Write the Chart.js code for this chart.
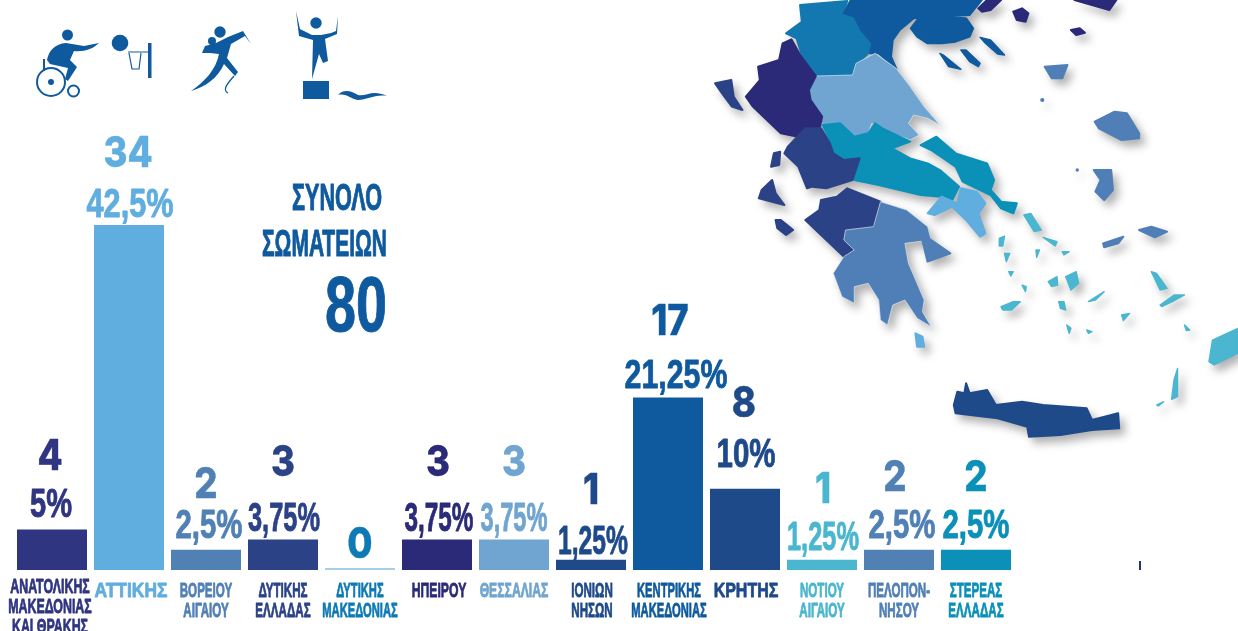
<!DOCTYPE html>
<html lang="el">
<head>
<meta charset="utf-8">
<title>Σύνολο σωματείων ανά περιφέρεια</title>
<script src="https://cdn.jsdelivr.net/npm/chart.js@4"></script>
<style>
  html, body { margin: 0; padding: 0; background: #fff; overflow: hidden; }
  #wrap { position: relative; width: 1238px; height: 631px; overflow: hidden; }
  #wrap svg { position: absolute; left: 0; top: 0; }
  #map { filter: blur(0.5px) drop-shadow(5px 6px 4px rgba(0,0,0,.3)); }
  canvas { position: absolute; left: 0; top: 0; }
</style>
</head>
<body>
<div id="wrap">
  <!-- map of the regions, decoration only -->
  <svg id="map" style="left:690px" width="548" height="450" viewBox="0 0 1568 1350" preserveAspectRatio="none">
    <g stroke-linejoin="round" stroke-width="6">
      <path fill="#1478b0" stroke="#1478b0" d="M315 15L450 3L435 45L470 50L490 90L520 130L510 160L470 200L465 225L360 228L320 165L305 115L275 100L320 65Z"/>
      <path fill="#0f5a9e" stroke="#0f5a9e" d="M460 0L835 0L800 45L640 55L600 90L580 120L575 170L590 205L540 160L515 160L522 130L490 90L470 50L440 40Z"/>
      <path fill="#0f5a9e" stroke="#0f5a9e" d="M632 85L650 60L700 50L790 55L810 85L800 110L760 125L720 130L680 130L650 110Z"/>
      <path fill="#0f5a9e" stroke="#0f5a9e" stroke-width="4" d="M715 160L725 165L775 208L740 200Z"/>
      <path fill="#0f5a9e" stroke="#0f5a9e" stroke-width="4" d="M775 150L790 150L830 190L825 200L800 185Z"/>
      <path fill="#0f5a9e" stroke="#0f5a9e" stroke-width="4" d="M830 112L860 120L900 165L880 162L845 130Z"/>
      <path fill="#6fa5d0" stroke="#dde6f0" stroke-width="2" d="M360 228L465 225L475 190L530 160L590 205L630 260L670 320L715 375L680 355L640 345L625 370L655 405L630 420L540 385L520 370L510 400L470 410L430 370L380 375L345 300L340 270Z"/>
      <path fill="#2a2a78" stroke="#2a2a78" d="M290 118L315 165L360 228L340 270L345 300L378 350L372 380L330 385L310 410L260 400L230 370L180 320L160 290L200 240L195 200L255 180L265 130Z"/>
      <path fill="#0b90b8" stroke="#0b90b8" d="M380 375L430 370L470 410L510 400L530 370L550 385L630 425L578 445L630 475L680 490L715 510L770 560L745 610L720 590L660 585L600 570L540 555L470 540L485 480L440 480L410 460L400 420Z"/>
      <path fill="#0b90b8" stroke="#0b90b8" d="M660 435L705 410L760 460L850 490L870 540L860 570L890 605L935 610L925 640L890 625L860 585L780 545L760 500L690 450Z"/>
      <path fill="#2b4287" stroke="#2b4287" d="M280 440L330 385L375 385L400 430L410 460L440 480L485 475L465 540L390 565L350 560L335 565L310 500L270 460Z"/>
      <path fill="#2b4287" stroke="#2b4287" d="M450 565L545 605L525 680L445 690L440 720L470 750L440 770L370 700L330 660L370 630L375 600L420 590Z"/>
      <path fill="#4f7fb6" stroke="#dde6f0" stroke-width="2" d="M545 605L620 630L680 680L690 720L615 730L625 790L670 900L665 935L690 980L650 955L615 900L580 915L565 975L545 960L540 900L510 850L470 860L470 910L435 890L410 820L440 770L470 750L440 720L445 690L525 680Z"/>
      <path fill="#4f7fb6" stroke="#4f7fb6" d="M660 700L690 720L745 760L680 785Z"/>
      <path fill="#60addf" stroke="#60addf" d="M765 610L775 565L820 575L845 610L825 640L845 700L830 710L790 660L750 620L700 645L680 640L720 590Z"/>
      <path fill="#60addf" stroke="#60addf" d="M645 1000L665 1010L670 1040L650 1040Z"/>
      <!-- Ionian -->
      <path fill="#2b4287" stroke="#2b4287" d="M72 250L118 240L125 290L150 330L120 320L95 285Z"/>
      <path fill="#2b4287" stroke="#2b4287" d="M240 460L258 455L255 495L232 500Z"/>
      <path fill="#2b4287" stroke="#2b4287" d="M235 540L245 580L270 615L235 605L197 595L205 570Z"/>
      <path fill="#2b4287" stroke="#2b4287" d="M245 660L260 660L295 690L275 705L250 685Z"/>
      <!-- Crete -->
      <path fill="#1f4a8a" stroke="#1f4a8a" d="M755 1215L765 1175L785 1180L790 1150L800 1180L850 1170L875 1215L950 1205L1010 1215L1135 1225L1150 1260L1225 1240L1228 1285L1150 1290L1060 1305L970 1310L965 1280L880 1255L760 1240Z"/>
      <!-- north east islands -->
      <path fill="#2a2a78" stroke="#2a2a78" d="M925 35L950 25L968 40L960 65L935 60Z"/>
      <path fill="#2a2a78" stroke="#2a2a78" d="M1090 90L1115 85L1130 98L1105 105Z"/>
      <path fill="#2a2a78" stroke="#2a2a78" d="M825 25L850 0L890 0L860 30L835 35Z"/>
      <path fill="#2a2a78" stroke="#2a2a78" d="M1100 0L1220 0L1200 30L1150 15Z"/>
      <path fill="#4f7fb6" stroke="#4f7fb6" d="M1015 200L1080 195L1065 235L1035 235Z"/>
      <path fill="#4f7fb6" stroke="#4f7fb6" d="M1158 365L1215 335L1250 340L1285 400L1285 415L1235 420L1170 385Z"/>
      <path fill="#4f7fb6" stroke="#4f7fb6" d="M1155 510L1205 510L1210 570L1185 600L1160 575L1175 540Z"/>
      <path fill="#4f7fb6" stroke="#4f7fb6" d="M1285 690L1320 680L1365 695L1330 712Z"/>
      <path fill="#4f7fb6" stroke="#4f7fb6" d="M1182 730L1240 710L1225 730L1185 742Z"/>
      <circle cx="1008" cy="300" r="6" fill="#4f7fb6" stroke="none"/>
      <circle cx="1108" cy="510" r="5" fill="#4f7fb6" stroke="none"/>
      <!-- Aegean islands -->
      <g fill="#4ab6cf" stroke="#4ab6cf" stroke-width="4">
        <path d="M955 645L975 640L1005 690L985 695Z"/>
        <path d="M1010 712L1050 725L1045 738Z"/>
        <path d="M1065 755L1085 755L1070 765Z"/>
        <path d="M885 715L900 708L895 738L885 738Z"/>
        <path d="M900 760L915 760L905 785Z"/>
        <path d="M990 750L1000 750L992 772Z"/>
        <path d="M1075 830L1105 815L1112 850L1090 870Z"/>
        <path d="M1025 845L1050 830L1052 855L1035 860Z"/>
        <path d="M912 815L925 815L918 828Z"/>
        <path d="M950 855L962 860L960 875Z"/>
        <path d="M890 920L925 905L945 905L920 930L895 930Z"/>
        <path d="M1055 905L1070 905L1075 930L1060 925Z"/>
        <path d="M1140 905L1185 875L1160 900Z"/>
        <path d="M1345 915L1385 885L1415 885L1380 905L1350 920Z"/>
        <path d="M1320 815L1335 820L1365 865L1345 870Z"/>
        <path d="M1235 945L1258 940L1240 962Z"/>
        <path d="M1078 975L1090 985L1085 1000Z"/>
        <path d="M1135 990L1150 995L1140 1000Z"/>
        <path d="M1495 1020L1568 985L1568 1060L1500 1095L1485 1085Z"/>
        <path d="M1395 1105L1395 1190L1378 1198L1385 1140Z"/>
        <path d="M1335 1215L1355 1205L1340 1218Z"/>
        <path d="M1415 975L1430 990L1420 992Z"/>
      </g>
    </g>
  </svg>
  <!-- sport pictograms, decoration only -->
  <svg width="420" height="110">
    <g fill="#0f5a9e">
      <circle cx="67.500" cy="35" r="5.500"/>
      <path d="M47 60C49 50 55 44 66 43L84 46L99 43C93 49 84 52 74 51L70 60L77 67L68 81L65 79L68 68L50 64Z"/>
      <circle cx="51" cy="82" r="3"/>
      <rect x="43" y="59" width="2" height="12"/>
      <circle cx="120" cy="43" r="8.300"/>
      <rect x="148" y="43" width="3.500" height="35"/>
      <circle cx="220" cy="32" r="5.700"/>
      <circle cx="212" cy="41" r="4"/>
      <path d="M205 46L216 43L228 37L243 31L251 44L245 36L231 44L227 58L238 72L235 76L224 64C218 78 205 87 191 91C204 82 216 70 219 54L210 53L202 53Z"/>
      <circle cx="316" cy="23" r="5.700"/>
      <path d="M296 11L300 29L312 35H321L331 33L336 31L338 16L337 34L325 39L328 61L323 63L319 54L312 79L313 40L299 36Z"/>
      <rect x="303" y="81" width="26" height="18"/>
      <path d="M338 95C345 88 352 92 358 95C366 97 372 89 387 96C375 94 367 100 358 100C350 99 347 93 338 95Z"/>
    </g>
    <g fill="none" stroke="#0f5a9e">
      <circle cx="51" cy="82" r="14" stroke-width="2"/>
      <circle cx="73.500" cy="91" r="5.500" stroke-width="2"/>
      <path d="M128 52H148M129 53L132 69H139L141 53" stroke-width="1.200"/>
      <path d="M234 76C227 84 222 90 228 93" stroke-width="1.300"/>
    </g>
  </svg>
  <svg width="1238" height="631"><rect x="1139" y="561" width="2" height="9" fill="#1d3a66"/></svg>
  <canvas id="clubsChart" width="1238" height="631"></canvas>
</div>
<script>
const regions = [
  ["ΑΝΑΤΟΛΙΚΗΣ", "ΜΑΚΕΔΟΝΙΑΣ", "ΚΑΙ ΘΡΑΚΗΣ"],
  ["ΑΤΤΙΚΗΣ"],
  ["ΒΟΡΕΙΟΥ", "ΑΙΓΑΙΟΥ"],
  ["ΔΥΤΙΚΗΣ", "ΕΛΛΑΔΑΣ"],
  ["ΔΥΤΙΚΗΣ", "ΜΑΚΕΔΟΝΙΑΣ"],
  ["ΗΠΕΙΡΟΥ"],
  ["ΘΕΣΣΑΛΙΑΣ"],
  ["ΙΟΝΙΩΝ", "ΝΗΣΩΝ"],
  ["ΚΕΝΤΡΙΚΗΣ", "ΜΑΚΕΔΟΝΙΑΣ"],
  ["ΚΡΗΤΗΣ"],
  ["ΝΟΤΙΟΥ", "ΑΙΓΑΙΟΥ"],
  ["ΠΕΛΟΠΟΝ-", "ΝΗΣΟΥ"],
  ["ΣΤΕΡΕΑΣ", "ΕΛΛΑΔΑΣ"],
];
const clubs = [4, 34, 2, 3, 0, 3, 3, 1, 17, 8, 1, 2, 2];
const shares = ["5%", "42,5%", "2,5%", "3,75%", "", "3,75%", "3,75%", "1,25%", "21,25%", "10%", "1,25%", "2,5%", "2,5%"];
const totalTitle = ["ΣΥΝΟΛΟ", "ΣΩΜΑΤΕΙΩΝ"];
const totalClubs = "80";

const barColors = ["#2f3580", "#60addf", "#5180b5", "#2b4287", "#a8cde8", "#2a2a78", "#6fa5d0", "#1f4a8a", "#0f5a9e", "#1f4a8a", "#4ab6cf", "#5180b5", "#0b90b8"];
const textColors = ["#2f3580", "#60addf", "#5180b5", "#2b4287", "#0e7ab5", "#2a2a78", "#6fa5d0", "#1f4a8a", "#0f5a9e", "#1f4a8a", "#4ab6cf", "#5180b5", "#0b90b8"];

// label placement, px relative to the bar
const countLift = [59, 58, 52, 64, 12, 64, 64, 56, 62, 72, 57, 59, 59];
const countShift = [-2, -1, 0, 0, 0, 1, 0, 0, 2, -1, 1, -4, 0];
const shareLift = [12, 8, 12, 9, 0, 9, 9, 6, 9, 22, 10, 12, 12];
const shareShift = [-1, 1, 3, 1, 0, 2, 0, 2, 8, 1, 1, 3, 0];
const shareWidth = [42, 87, 67, 72, 0, 69, 67, 70, 103, 59, 72, 67, 67];
const labelStretch = [0.62, 0.87, 0.58, 0.58, 0.56, 0.61, 0.61, 0.58, 0.56, 0.8, 0.58, 0.58, 0.58];
const labelShift = [-2, 2, 0, 0, 0, 2, 0, 1, 1, 1, 0, 0, 0];
const labelDrop = [-4, 0, 0, 0, 0, 0, 0, 0, 0, 0, 0, 0, 0];

function squeezed(ctx, text, x, y, sx, weight) {
  ctx.save();
  ctx.translate(x, y);
  ctx.scale(sx, 1);
  ctx.lineWidth = weight;
  ctx.fillText(text, 0, 0);
  ctx.strokeText(text, 0, 0);
  ctx.restore();
}

const barTexts = {
  id: "barTexts",
  afterDraw(chart) {
    const ctx = chart.ctx;
    const xScale = chart.scales.x;
    const yScale = chart.scales.y;
    ctx.save();
    ctx.textAlign = "center";
    ctx.textBaseline = "alphabetic";
    ctx.lineJoin = "round";
    clubs.forEach((value, i) => {
      const x = xScale.getPixelForTick(i);
      const top = yScale.getPixelForValue(value);
      ctx.fillStyle = textColors[i];
      ctx.strokeStyle = textColors[i];

      ctx.font = "800 43px Inter";
      squeezed(ctx, String(value), x + countShift[i], top - countLift[i], 0.85, 0.4);

      if (shares[i]) {
        ctx.font = "bold 41px 'Liberation Sans'";
        ctx.lineWidth = 0.9;
        ctx.fillText(shares[i], x + shareShift[i], top - shareLift[i], shareWidth[i]);
        ctx.strokeText(shares[i], x + shareShift[i], top - shareLift[i], shareWidth[i]);
      }

      ctx.font = "bold 20px 'Liberation Sans'";
      regions[i].forEach((line, n) => {
        squeezed(ctx, line, x + labelShift[i], 597 + labelDrop[i] + n * 20, labelStretch[i], 0.8);
      });
    });

    ctx.fillStyle = "#0f5a9e";
    ctx.strokeStyle = "#0f5a9e";
    ctx.textAlign = "right";
    ctx.lineWidth = 1;
    ctx.font = "bold 36px 'Liberation Sans'";
    ctx.fillText(totalTitle[0], 382, 210, 90);
    ctx.strokeText(totalTitle[0], 382, 210, 90);
    ctx.fillText(totalTitle[1], 387, 256, 125);
    ctx.strokeText(totalTitle[1], 387, 256, 125);
    ctx.font = "bold 78px 'Liberation Sans'";
    ctx.fillText(totalClubs, 387, 331, 62);
    ctx.strokeText(totalClubs, 387, 331, 62);
    ctx.restore();
  },
};

new Chart(document.getElementById("clubsChart").getContext("2d"), {
  type: "bar",
  data: {
    labels: regions,
    datasets: [{
      data: clubs,
      backgroundColor: barColors,
      barPercentage: 1,
      categoryPercentage: 70 / 77,
      minBarLength: 2,
    }],
  },
  options: {
    responsive: false,
    animation: false,
    layout: { padding: { left: 13.5, right: 223.5, top: 1.6, bottom: 0 } },
    plugins: { legend: { display: false }, tooltip: { enabled: false } },
    scales: {
      x: {
        grid: { display: false },
        border: { display: false },
        ticks: { display: false },
        afterFit(scale) { scale.height = 61; },
      },
      y: { display: false, min: 0, max: 56 },
    },
  },
  plugins: [barTexts],
});
</script>
</body>
</html>
